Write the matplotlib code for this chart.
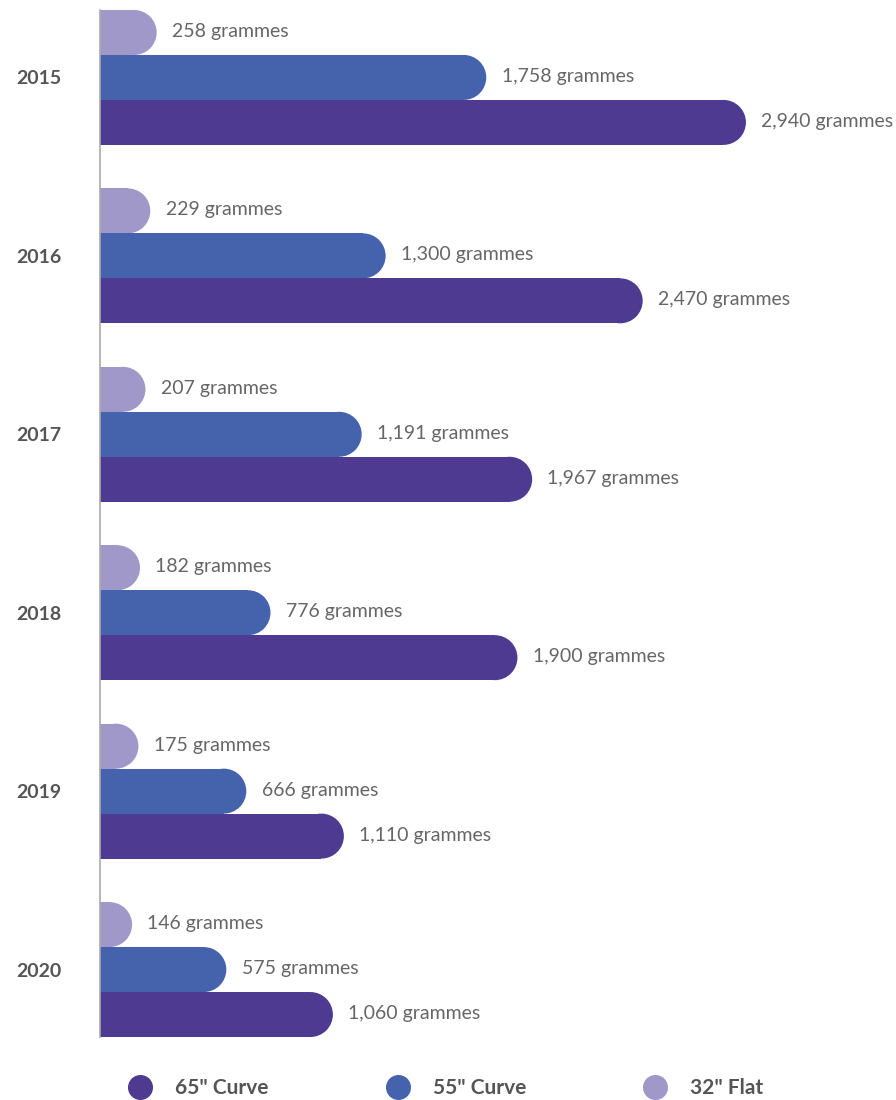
import matplotlib
matplotlib.use('Agg')
import matplotlib.pyplot as plt
from matplotlib.patches import Ellipse
from matplotlib.lines import Line2D
import numpy as np

plt.rcParams['font.family'] = ['Lato', 'DejaVu Sans']

# data (grammes)
years = ['2015', '2016', '2017', '2018', '2019', '2020']
series = ['32" Flat', '55" Curve', '65" Curve']
flat_32 = [258, 229, 207, 182, 175, 146]
curve_55 = [1758, 1300, 1191, 776, 666, 575]
curve_65 = [2940, 2470, 1967, 1900, 1110, 1060]
colors = ['#A198CA', '#4563AD', '#4E3A91']

W, H = 896, 1100
fig = plt.figure(figsize=(W / 100, H / 100), dpi=100)

# axes box in pixels
ax_left, ax_right = 100, 896
ax_top, ax_bottom = 10, 1037
ax = fig.add_axes([ax_left / W, 1 - ax_bottom / H,
                   (ax_right - ax_left) / W, (ax_bottom - ax_top) / H])

bar_h = 0.252
xmax = 3623
ax.set_xlim(0, xmax)
ax.set_ylim(len(years) - 1 + 1.5 * bar_h, -1.5 * bar_h)

# radius of the round end, in x data units, so it looks circular
px_per_x = (ax_right - ax_left) / xmax
px_per_y = (ax_bottom - ax_top) / (len(years) - 1 + 3 * bar_h)
rx = (bar_h / 2) * px_per_y / px_per_x

y = np.arange(len(years))
for k, vals in enumerate([flat_32, curve_55, curve_65]):
    yy = y + (k - 1) * bar_h
    for yi, v in zip(yy, vals):
        ax.barh(yi, v - rx, height=bar_h, left=0, color=colors[k], linewidth=0)
        ax.add_patch(Ellipse((v - rx, yi), 2 * rx, bar_h, color=colors[k],
                             linewidth=0))
        ax.annotate(f'{v:,} grammes', (v, yi), xytext=(11, 0.7),
                    textcoords='offset points', va='center', ha='left',
                    fontsize=14, color='#666666', annotation_clip=False)

ax.set_yticks(y, years)
ax.tick_params(axis='y', length=0, pad=28, labelsize=14, labelcolor='#555555')
for lab in ax.get_yticklabels():
    lab.set_fontweight('bold')
ax.set_xticks([])
for s in ['top', 'right', 'bottom']:
    ax.spines[s].set_visible(False)
ax.spines['left'].set_color('#aaaaaa')
ax.spines['left'].set_linewidth(1.2)

# legend (65", 55", 32" order)
order = [2, 1, 0]
handles = [Line2D([], [], marker='o', ls='', markersize=17, color=colors[i])
           for i in order]
labels = [series[i] for i in order]
leg = fig.legend(handles, labels, loc='center left',
                 bbox_to_anchor=(127.5 / W, 1 - 1088 / H), ncol=3, frameon=False,
                 handlelength=1.2, handletextpad=1.08, columnspacing=5.6,
                 borderpad=0, borderaxespad=0, prop={'size': 15, 'weight': 'bold'})
for t in leg.get_texts():
    t.set_color('#555555')

fig.savefig('out.png', dpi=100)
